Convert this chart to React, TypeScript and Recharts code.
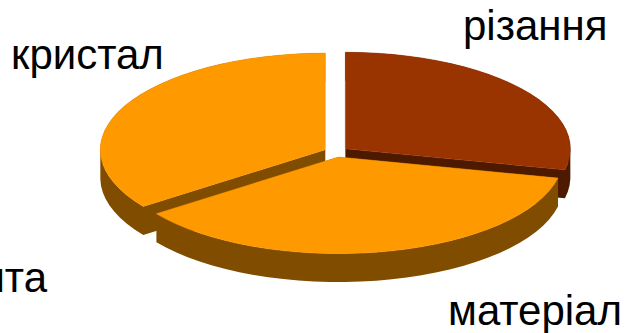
import React from "react";
import { PieChart, Pie } from "recharts";

const sliceNames = ["кристал", "різання", "матеріал"];
const sliceValues = [35, 28.5, 36.5];
const topColors = ["#FF9900", "#993300", "#FF9900"];
const wallColors = ["#804D00", "#4D1A00", "#804D00"];
const captions = ["різання", "кристал", "ита", "матеріал"];

const RAD = Math.PI / 180;
const TILT = 0.429;
const DEPTH = 28.5;
const EXPLODE = 12;
const ARC_STEP = 4;

const captionStyle: React.CSSProperties = {
  fontFamily: "'Liberation Sans', Arial, sans-serif",
  fontSize: 42,
  fill: "#000",
};

// One extruded edge, always wound the same way so the quads merge under nonzero fill
const wallQuad = (p: [number, number], q: [number, number]) => {
  const [a, b] = p[0] <= q[0] ? [p, q] : [q, p];
  return `M${a[0]},${a[1]}L${b[0]},${b[1]}L${b[0]},${b[1] + DEPTH}L${a[0]},${a[1] + DEPTH}Z`;
};

// Flattens the circular sector onto an ellipse and extrudes it downward
const TiltedSlice = (props: any) => {
  const { cx, cy, outerRadius, startAngle, endAngle, midAngle, index } = props;
  const ox = cx + EXPLODE * Math.cos(midAngle * RAD);
  const oy = cy - EXPLODE * TILT * Math.sin(midAngle * RAD);

  const pts: [number, number][] = [[ox, oy]];
  const steps = Math.ceil(Math.abs(endAngle - startAngle) / ARC_STEP);
  for (let i = 0; i <= steps; i++) {
    const a = (startAngle + ((endAngle - startAngle) * i) / steps) * RAD;
    pts.push([ox + outerRadius * Math.cos(a), oy - outerRadius * TILT * Math.sin(a)]);
  }

  const top = "M" + pts.map((p) => `${p[0]},${p[1]}`).join("L") + "Z";
  const walls = pts.map((p, i) => wallQuad(p, pts[(i + 1) % pts.length])).join("");

  return (
    <g>
      <path d={walls} fill={wallColors[index]} />
      <path d={top} fill={topColors[index]} stroke={topColors[index]} strokeWidth={0.5} />
    </g>
  );
};

const data = sliceNames.map((name, i) => ({ name, value: sliceValues[i] }));

export default function App() {
  return (
    <div style={{ position: "absolute", left: 0, top: 0, width: 625, height: 333, background: "#fff" }}>
      <PieChart width={625} height={333} margin={{ top: 0, right: 0, bottom: 0, left: 0 }}>
        <Pie
          data={data}
          dataKey="value"
          nameKey="name"
          cx={336}
          cy={152}
          innerRadius={0}
          outerRadius={225}
          startAngle={216}
          endAngle={-144}
          stroke="none"
          isAnimationActive={false}
          shape={TiltedSlice}
        />
        <text x={463} y={40} style={captionStyle}>{captions[0]}</text>
        <text x={11} y={69} style={captionStyle}>{captions[1]}</text>
        <text x={47} y={292} textAnchor="end" style={captionStyle}>{captions[2]}</text>
        <text x={448} y={325} style={captionStyle}>{captions[3]}</text>
      </PieChart>
    </div>
  );
}
